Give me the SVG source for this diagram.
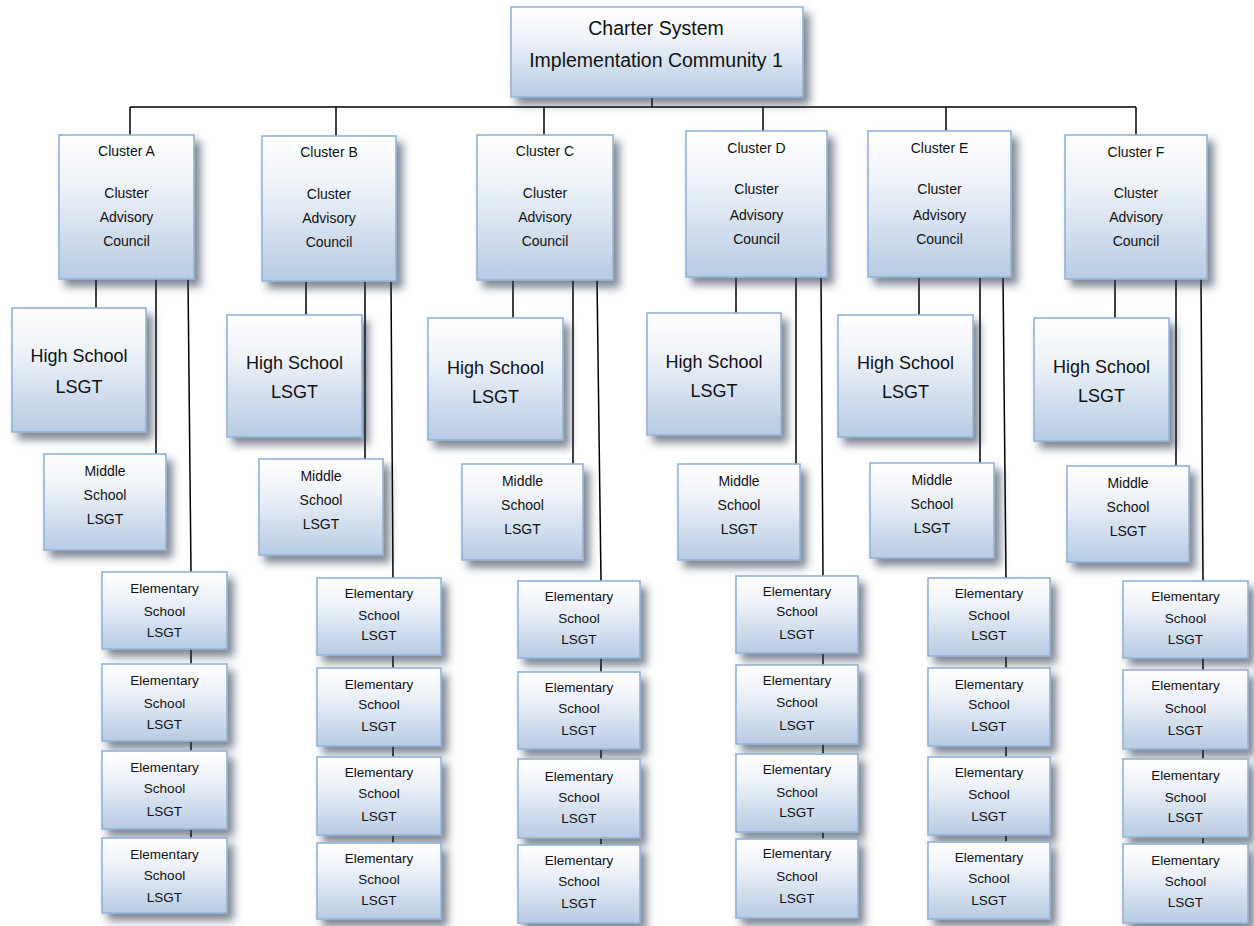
<svg xmlns="http://www.w3.org/2000/svg" width="1254" height="926" viewBox="0 0 1254 926">
<style>
.box{fill:url(#g);stroke:#94b2d6;stroke-width:1.6;filter:url(#sh)}
text{font-family:"Liberation Sans",Arial,sans-serif;fill:#111;text-anchor:middle}
.t{font-size:19.5px}
.c{font-size:14px}
.h{font-size:18px}
.m{font-size:14px}
.e{font-size:13.5px}
.ln{stroke:#000;stroke-width:1.5;fill:none}
</style>
<defs>
<linearGradient id="g" x1="0" y1="0" x2="0" y2="1">
<stop offset="0" stop-color="#ffffff"/>
<stop offset="0.35" stop-color="#eef2f8"/>
<stop offset="1" stop-color="#b7cbe3"/>
</linearGradient>
<filter id="sh" x="-20%" y="-20%" width="150%" height="150%">
<feDropShadow dx="6" dy="7" stdDeviation="4" flood-color="#27374f" flood-opacity="0.6"/>
</filter>
</defs>
<rect width="1254" height="926" fill="#fff"/>
<g id="connectors" class="ln">
<path d="M652 97V107M130 107H1136M130 107V135M336 107V136M544 107V135M763 107V131M946 107V131M1136 107V135"/>
<path d="M96 279V308M156 279V454M188 279L191 572M191 649V664M191 741V751M191 829V838"/>
<path d="M306 281V315M365 281V459M391 281L393 578M393 655V668M393 746V757M393 835V843"/>
<path d="M513 280V318M573 280V464M597 280L601 581M601 658V672M601 749V759M601 838V845"/>
<path d="M736 277V313M796 277V464M821 277L823 576M823 653V665M823 744V754M823 832V839"/>
<path d="M919 277V315M980 277V463M1003 277L1006 578M1006 656V668M1006 746V757M1006 835V842"/>
<path d="M1115 279V318M1176 279V466M1201 279L1203 581M1203 658V670M1203 749V759M1203 837V844"/>
</g>
<g id="top"><rect class="box" x="511" y="7" width="292" height="90"/><text class="t" x="656" y="35">Charter System</text><text class="t" x="656" y="67">Implementation Community 1</text></g>

<g id="clusterA"><rect class="box" x="59" y="135" width="135" height="144"/><text class="c" x="126.5" y="156">Cluster A</text><text class="c" x="126.5" y="198">Cluster</text><text class="c" x="126.5" y="222">Advisory</text><text class="c" x="126.5" y="246">Council</text></g>
<g id="clusterB"><rect class="box" x="262" y="136" width="134" height="145"/><text class="c" x="329" y="157">Cluster B</text><text class="c" x="329" y="199">Cluster</text><text class="c" x="329" y="223">Advisory</text><text class="c" x="329" y="247">Council</text></g>
<g id="clusterC"><rect class="box" x="477" y="135" width="136" height="145"/><text class="c" x="545" y="156">Cluster C</text><text class="c" x="545" y="198">Cluster</text><text class="c" x="545" y="222">Advisory</text><text class="c" x="545" y="246">Council</text></g>
<g id="clusterD"><rect class="box" x="686" y="131" width="141" height="146"/><text class="c" x="756.5" y="153">Cluster D</text><text class="c" x="756.5" y="194">Cluster</text><text class="c" x="756.5" y="220">Advisory</text><text class="c" x="756.5" y="244">Council</text></g>
<g id="clusterE"><rect class="box" x="868" y="131" width="143" height="146"/><text class="c" x="939.5" y="153">Cluster E</text><text class="c" x="939.5" y="194">Cluster</text><text class="c" x="939.5" y="220">Advisory</text><text class="c" x="939.5" y="244">Council</text></g>
<g id="clusterF"><rect class="box" x="1065" y="135" width="142" height="144"/><text class="c" x="1136" y="157">Cluster F</text><text class="c" x="1136" y="198">Cluster</text><text class="c" x="1136" y="222">Advisory</text><text class="c" x="1136" y="246">Council</text></g>

<g id="hsA"><rect class="box" x="12" y="308" width="134" height="124"/><text class="h" x="79" y="362">High School</text><text class="h" x="79" y="393">LSGT</text></g>
<g id="hsB"><rect class="box" x="227" y="315" width="135" height="122"/><text class="h" x="294.5" y="369">High School</text><text class="h" x="294.5" y="398">LSGT</text></g>
<g id="hsC"><rect class="box" x="428" y="318" width="135" height="122"/><text class="h" x="495.5" y="374">High School</text><text class="h" x="495.5" y="403">LSGT</text></g>
<g id="hsD"><rect class="box" x="647" y="313" width="134" height="122"/><text class="h" x="714" y="368">High School</text><text class="h" x="714" y="397">LSGT</text></g>
<g id="hsE"><rect class="box" x="838" y="315" width="135" height="122"/><text class="h" x="905.5" y="369">High School</text><text class="h" x="905.5" y="398">LSGT</text></g>
<g id="hsF"><rect class="box" x="1034" y="318" width="135" height="123"/><text class="h" x="1101.5" y="373">High School</text><text class="h" x="1101.5" y="402">LSGT</text></g>

<g id="msA"><rect class="box" x="44" y="454" width="122" height="96"/><text class="m" x="105" y="476">Middle</text><text class="m" x="105" y="500">School</text><text class="m" x="105" y="524">LSGT</text></g>
<g id="msB"><rect class="box" x="259" y="459" width="124" height="96"/><text class="m" x="321" y="481">Middle</text><text class="m" x="321" y="505">School</text><text class="m" x="321" y="529">LSGT</text></g>
<g id="msC"><rect class="box" x="462" y="464" width="121" height="96"/><text class="m" x="522.5" y="486">Middle</text><text class="m" x="522.5" y="510">School</text><text class="m" x="522.5" y="534">LSGT</text></g>
<g id="msD"><rect class="box" x="678" y="464" width="122" height="96"/><text class="m" x="739" y="486">Middle</text><text class="m" x="739" y="510">School</text><text class="m" x="739" y="534">LSGT</text></g>
<g id="msE"><rect class="box" x="870" y="463" width="124" height="95"/><text class="m" x="932" y="485">Middle</text><text class="m" x="932" y="509">School</text><text class="m" x="932" y="533">LSGT</text></g>
<g id="msF"><rect class="box" x="1067" y="466" width="122" height="96"/><text class="m" x="1128" y="488">Middle</text><text class="m" x="1128" y="512">School</text><text class="m" x="1128" y="536">LSGT</text></g>

<g id="esA1"><rect class="box" x="102" y="572" width="125" height="77"/><text class="e" x="164.5" y="593">Elementary</text><text class="e" x="164.5" y="616">School</text><text class="e" x="164.5" y="637">LSGT</text></g>
<g id="esA2"><rect class="box" x="102" y="664" width="125" height="77"/><text class="e" x="164.5" y="685">Elementary</text><text class="e" x="164.5" y="708">School</text><text class="e" x="164.5" y="729">LSGT</text></g>
<g id="esA3"><rect class="box" x="102" y="751" width="125" height="78"/><text class="e" x="164.5" y="772">Elementary</text><text class="e" x="164.5" y="793">School</text><text class="e" x="164.5" y="816">LSGT</text></g>
<g id="esA4"><rect class="box" x="102" y="838" width="125" height="75"/><text class="e" x="164.5" y="859">Elementary</text><text class="e" x="164.5" y="880">School</text><text class="e" x="164.5" y="902">LSGT</text></g>

<g id="esB1"><rect class="box" x="317" y="578" width="124" height="77"/><text class="e" x="379" y="598">Elementary</text><text class="e" x="379" y="620">School</text><text class="e" x="379" y="640">LSGT</text></g>
<g id="esB2"><rect class="box" x="317" y="668" width="124" height="78"/><text class="e" x="379" y="689">Elementary</text><text class="e" x="379" y="709">School</text><text class="e" x="379" y="731">LSGT</text></g>
<g id="esB3"><rect class="box" x="317" y="757" width="124" height="78"/><text class="e" x="379" y="777">Elementary</text><text class="e" x="379" y="798">School</text><text class="e" x="379" y="821">LSGT</text></g>
<g id="esB4"><rect class="box" x="317" y="843" width="124" height="76"/><text class="e" x="379" y="863">Elementary</text><text class="e" x="379" y="884">School</text><text class="e" x="379" y="905">LSGT</text></g>

<g id="esC1"><rect class="box" x="518" y="581" width="122" height="77"/><text class="e" x="579" y="601">Elementary</text><text class="e" x="579" y="623">School</text><text class="e" x="579" y="644">LSGT</text></g>
<g id="esC2"><rect class="box" x="518" y="672" width="122" height="77"/><text class="e" x="579" y="692">Elementary</text><text class="e" x="579" y="713">School</text><text class="e" x="579" y="735">LSGT</text></g>
<g id="esC3"><rect class="box" x="518" y="759" width="122" height="79"/><text class="e" x="579" y="781">Elementary</text><text class="e" x="579" y="802">School</text><text class="e" x="579" y="823">LSGT</text></g>
<g id="esC4"><rect class="box" x="518" y="845" width="122" height="78"/><text class="e" x="579" y="865">Elementary</text><text class="e" x="579" y="886">School</text><text class="e" x="579" y="908">LSGT</text></g>

<g id="esD1"><rect class="box" x="736" y="576" width="122" height="77"/><text class="e" x="797" y="596">Elementary</text><text class="e" x="797" y="616">School</text><text class="e" x="797" y="639">LSGT</text></g>
<g id="esD2"><rect class="box" x="736" y="665" width="122" height="79"/><text class="e" x="797" y="685">Elementary</text><text class="e" x="797" y="707">School</text><text class="e" x="797" y="730">LSGT</text></g>
<g id="esD3"><rect class="box" x="736" y="754" width="122" height="78"/><text class="e" x="797" y="774">Elementary</text><text class="e" x="797" y="797">School</text><text class="e" x="797" y="817">LSGT</text></g>
<g id="esD4"><rect class="box" x="736" y="839" width="122" height="79"/><text class="e" x="797" y="858">Elementary</text><text class="e" x="797" y="881">School</text><text class="e" x="797" y="903">LSGT</text></g>

<g id="esE1"><rect class="box" x="928" y="578" width="122" height="78"/><text class="e" x="989" y="598">Elementary</text><text class="e" x="989" y="620">School</text><text class="e" x="989" y="640">LSGT</text></g>
<g id="esE2"><rect class="box" x="928" y="668" width="122" height="78"/><text class="e" x="989" y="689">Elementary</text><text class="e" x="989" y="709">School</text><text class="e" x="989" y="731">LSGT</text></g>
<g id="esE3"><rect class="box" x="928" y="757" width="122" height="78"/><text class="e" x="989" y="777">Elementary</text><text class="e" x="989" y="799">School</text><text class="e" x="989" y="821">LSGT</text></g>
<g id="esE4"><rect class="box" x="928" y="842" width="122" height="77"/><text class="e" x="989" y="862">Elementary</text><text class="e" x="989" y="883">School</text><text class="e" x="989" y="905">LSGT</text></g>

<g id="esF1"><rect class="box" x="1123" y="581" width="125" height="77"/><text class="e" x="1185.5" y="601">Elementary</text><text class="e" x="1185.5" y="623">School</text><text class="e" x="1185.5" y="644">LSGT</text></g>
<g id="esF2"><rect class="box" x="1123" y="670" width="125" height="79"/><text class="e" x="1185.5" y="690">Elementary</text><text class="e" x="1185.5" y="713">School</text><text class="e" x="1185.5" y="735">LSGT</text></g>
<g id="esF3"><rect class="box" x="1123" y="759" width="125" height="78"/><text class="e" x="1185.5" y="780">Elementary</text><text class="e" x="1185.5" y="802">School</text><text class="e" x="1185.5" y="822">LSGT</text></g>
<g id="esF4"><rect class="box" x="1123" y="844" width="125" height="79"/><text class="e" x="1185.5" y="865">Elementary</text><text class="e" x="1185.5" y="886">School</text><text class="e" x="1185.5" y="907">LSGT</text></g>
</svg>
